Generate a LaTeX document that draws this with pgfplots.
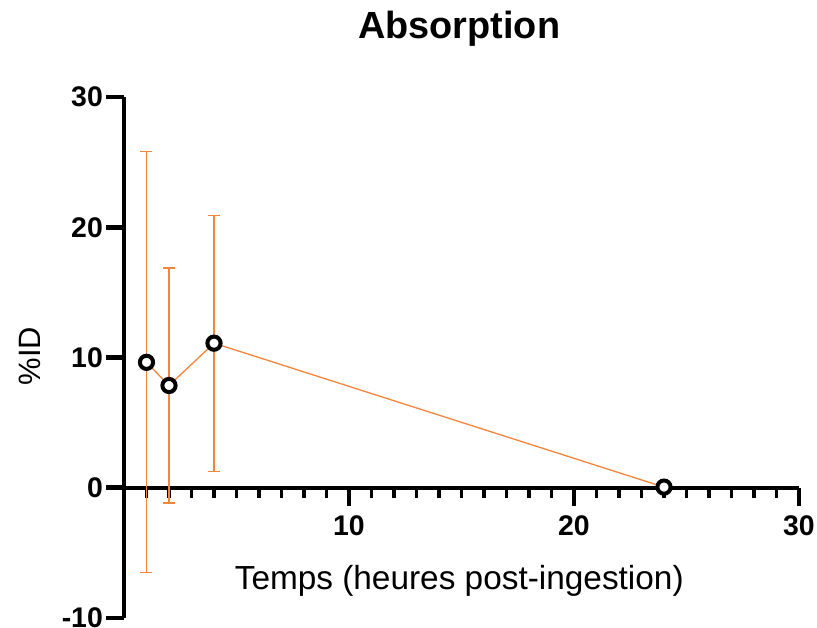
\documentclass[border=0pt]{standalone}
\usepackage{pgfplots}
\pgfplotsset{compat=1.18}
\usepackage{fontspec}
\setmainfont{Liberation Sans}
\definecolor{orng}{HTML}{F5843C}
\begin{document}
\begin{tikzpicture}
\path[use as bounding box] (-124bp,-10bp) rectangle (693bp,618bp);
\begin{axis}[
  at={(0,0)}, anchor=south west,
  scale only axis, width=675bp, height=521bp,
  xmin=0, xmax=30, ymin=-10, ymax=30,
  axis x line=middle, axis y line=left,
  axis line style={line width=4.5bp, -},
  xtick={10,20,30}, minor xtick={1,2,...,29},
  ytick={-10,0,10,20,30},
  tick align=outside,
  xtick align=outside, ytick align=outside,
  major tick length=18bp, minor tick length=10bp,
  every tick/.style={line width=4.6bp, black},
  minor tick style={line width=3.8bp, black},
  /pgf/number format/assume math mode=true,
  ticklabel style={font=\bfseries\fontsize{28.5}{28.5}\selectfont},
  xticklabel style={inner sep=2bp, yshift=-8bp},
  yticklabel style={inner sep=3bp},
  xlabel={Temps (heures post-ingestion)},
  xlabel style={at={(axis cs:14.9,-7.83)}, anchor=base, font=\fontsize{33.5}{33.5}\selectfont},
  ylabel={\%ID},
  ylabel style={at={(axis cs:-4.18,10.1)}, anchor=center, rotate=0, font=\fontsize{31}{31}\selectfont},
  title={Absorption},
  title style={at={(axis cs:14.9,34.0)}, anchor=base, font=\bfseries\fontsize{38}{38}\selectfont},
  clip=false,
]
\addplot[orng, line width=1.3bp, mark=none,
  error bars/.cd, y dir=both, y explicit,
  error bar style={orng, line width=1.2bp},
  error mark options={rotate=90, mark size=6bp, line width=1.2bp, orng}]
  coordinates {
    (1, 9.63) +- (0, 16.16)
    (2, 7.85) +- (0, 9.02)
    (4, 11.1) +- (0, 9.83)
    (24, 0.05) +- (0, 0)
  };
\addplot[only marks, mark=*, mark size=6.6bp, mark options={draw=black, fill=white, line width=4bp}]
  coordinates {(1, 9.63) (2, 7.85) (4, 11.1) (24, 0.05)};
\end{axis}
\end{tikzpicture}
\end{document}
